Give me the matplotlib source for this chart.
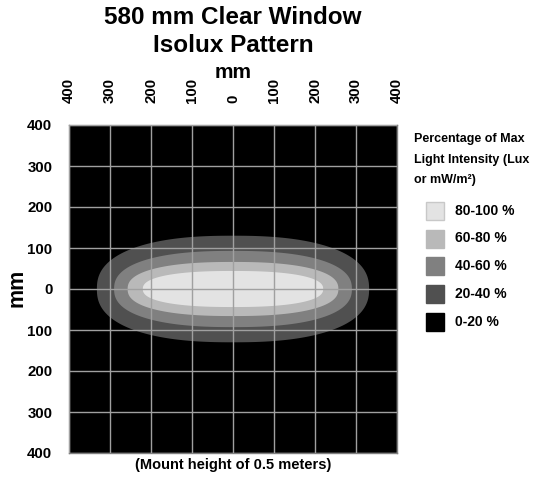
import numpy as np
import matplotlib
matplotlib.use("Agg")
import matplotlib.pyplot as plt
from matplotlib.patches import Rectangle

plt.rcParams['font.family'] = ['Liberation Sans', 'DejaVu Sans']
plt.rcParams['font.weight'] = 'bold'

# ---- data ----
title_lines = ["580 mm Clear Window", "Isolux Pattern"]
legend_title = ["Percentage of Max", "Light Intensity (Lux", "or mW/m\u00b2)"]
band_labels = ["80-100 %", "60-80 %", "40-60 %", "20-40 %", "0-20 %"]
band_colors = ["#e3e3e3", "#b9b9b9", "#808080", "#505050", "#000000"]
# half extents of each isolux contour (mm), inner -> outer
half_width_mm = [220, 257, 290, 332]
half_height_mm = [44, 66, 93, 130]
tick_values = [-400, -300, -200, -100, 0, 100, 200, 300, 400]
tick_labels = ["400", "300", "200", "100", "0", "100", "200", "300", "400"]
footer = "(Mount height of 0.5 meters)"

W, H = 535, 483
fig = plt.figure(figsize=(W / 100, H / 100), dpi=100)
ax = fig.add_axes([69 / W, (H - 453) / H, 328 / W, 328 / H])
ax.set_facecolor(band_colors[-1])
ax.set_xlim(-400, 400)
ax.set_ylim(-400, 400)

t = np.linspace(0, 2 * np.pi, 400)
n = 2.4
for i in range(len(half_width_mm) - 1, -1, -1):
    a, b = half_width_mm[i], half_height_mm[i]
    c, s = np.cos(t), np.sin(t)
    x = a * np.sign(c) * np.abs(c) ** (2 / n)
    y = b * np.sign(s) * np.abs(s) ** (2 / n)
    ax.fill(x, y, color=band_colors[i], lw=0, zorder=1)

ax.set_xticks(tick_values)
ax.set_yticks(tick_values)
ax.set_xticklabels(tick_labels, rotation=90, fontsize=10.8, fontweight='bold')
ax.set_yticklabels(tick_labels, fontsize=10.8, fontweight='bold')
ax.xaxis.tick_top()
ax.tick_params(length=0, pad=16)
ax.tick_params(axis='y', pad=12)
ax.grid(True, color="#a0a0a0", lw=1.0, zorder=2)
ax.set_axisbelow(False)
for sp in ax.spines.values():
    sp.set_color("#808080")
    sp.set_linewidth(1.0)

fig.text(233 / W, 1 - 17 / H, title_lines[0], ha='center', va='center', fontsize=17.5, fontweight='bold')
fig.text(233 / W, 1 - 46 / H, title_lines[1], ha='center', va='center', fontsize=17.5, fontweight='bold')
fig.text(233 / W, 1 - 72 / H, "mm", ha='center', va='center', fontsize=15, fontweight='bold')
fig.text(17 / W, 1 - 288 / H, "mm", ha='center', va='center', rotation=90, fontsize=15.5, fontweight='bold')
fig.text(233 / W, 1 - 465 / H, footer, ha='center', va='center', fontsize=10.5, fontweight='bold')

for k, line in enumerate(legend_title):
    fig.text(414 / W, 1 - (139 + 20.5 * k) / H, line, ha='left', va='center', fontsize=9, fontweight='bold')

for k, (lab, col) in enumerate(zip(band_labels, band_colors)):
    yc = 210.7 + 27.8 * k
    ec = "#c8c8c8" if k == 0 else col
    fig.patches.append(Rectangle((426 / W, 1 - (yc + 9) / H), 18 / W, 18 / H,
                                 transform=fig.transFigure, facecolor=col, edgecolor=ec, lw=1))
    fig.text(455 / W, 1 - yc / H, lab, ha='left', va='center', fontsize=10, fontweight='bold')

fig.savefig("out.png", dpi=100)
